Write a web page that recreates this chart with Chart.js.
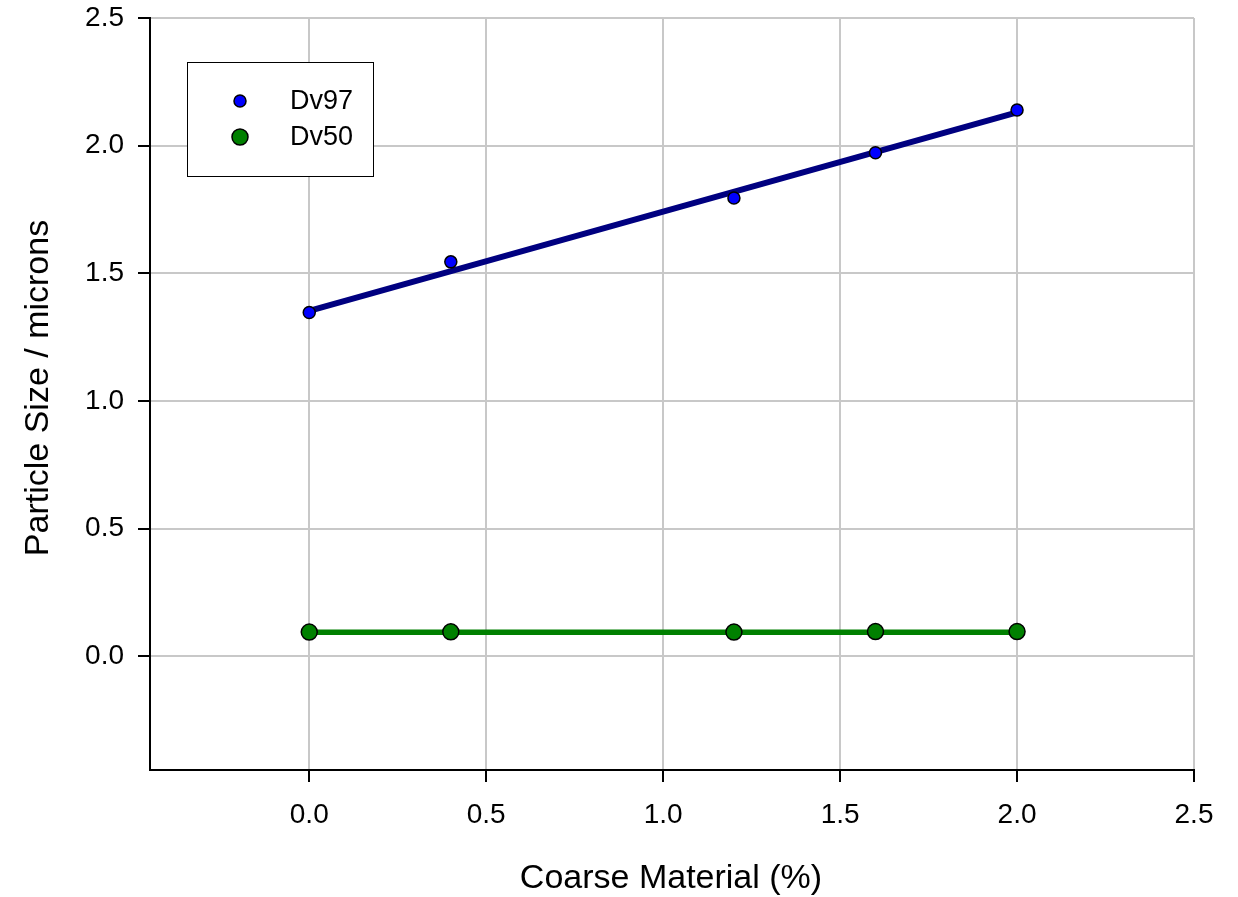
<!DOCTYPE html>
<html>
<head>
<meta charset="utf-8">
<script src="https://cdn.jsdelivr.net/npm/chart.js@4"></script>
<style>
  html, body { margin: 0; padding: 0; background: #fff; }
  #wrap { width: 1238px; height: 897px; }
</style>
</head>
<body>
<div id="wrap"><canvas id="sizeChart" width="1238" height="897"></canvas></div>
<script>
// values
const coarseX = [0.0, 0.4, 1.2, 1.6, 2.0];
const dv97 = [1.347, 1.545, 1.795, 1.972, 2.14];
const dv50 = [0.095, 0.096, 0.095, 0.097, 0.097];
const fitX = [0.0, 2.0];
const dv97Fit = [1.353, 2.13];
const dv50Fit = [0.094, 0.094];
const xTicks = [0.0, 0.5, 1.0, 1.5, 2.0, 2.5];
const yTicks = [0.0, 0.5, 1.0, 1.5, 2.0, 2.5];

const FONT = 'Liberation Sans, Arial, sans-serif';

const toPoints = (xs, ys) => xs.map((x, i) => ({ x: x, y: ys[i] }));

// legend box drawn by hand, like the original plot
const boxLegend = {
  id: 'boxLegend',
  afterDraw(chart) {
    const ctx = chart.ctx;
    ctx.save();
    ctx.fillStyle = '#fff';
    ctx.fillRect(187, 62, 186, 114);
    ctx.strokeStyle = '#000';
    ctx.lineWidth = 1;
    ctx.strokeRect(187.5, 62.5, 186, 114);
    const rows = [chart.data.datasets[0], chart.data.datasets[2]];
    rows.forEach((ds, i) => {
      const y = 101 + i * 36;
      ctx.beginPath();
      ctx.arc(240, y, ds.pointRadius, 0, Math.PI * 2);
      ctx.fillStyle = ds.backgroundColor;
      ctx.fill();
      ctx.lineWidth = ds.borderWidth;
      ctx.strokeStyle = ds.borderColor;
      ctx.stroke();
      ctx.fillStyle = '#000';
      ctx.font = '27px ' + FONT;
      ctx.textBaseline = 'middle';
      ctx.fillText(ds.label, 290, y + 1);
    });
    ctx.restore();
  }
};

const axisTitles = {
  id: 'axisTitles',
  afterDraw(chart) {
    const ctx = chart.ctx;
    ctx.save();
    ctx.fillStyle = '#000';
    ctx.font = '34px ' + FONT;
    ctx.textAlign = 'center';
    ctx.textBaseline = 'middle';
    ctx.fillText('Coarse Material (%)', 671, 879);
    ctx.translate(39, 388);
    ctx.rotate(-Math.PI / 2);
    ctx.fillText('Particle Size / microns', 0, 0);
    ctx.restore();
  }
};

new Chart(document.getElementById('sizeChart'), {
  type: 'scatter',
  data: {
    datasets: [
      {
        label: 'Dv97',
        data: toPoints(coarseX, dv97),
        backgroundColor: '#0000ff',
        borderColor: '#000',
        borderWidth: 1.5,
        pointRadius: 6,
        order: 1
      },
      {
        label: 'Dv97 fit',
        type: 'line',
        data: toPoints(fitX, dv97Fit),
        borderColor: '#000080',
        borderWidth: 6,
        pointRadius: 0,
        fill: false,
        order: 2
      },
      {
        label: 'Dv50',
        data: toPoints(coarseX, dv50),
        backgroundColor: '#008000',
        borderColor: '#000',
        borderWidth: 1.5,
        pointRadius: 8,
        order: 1
      },
      {
        label: 'Dv50 fit',
        type: 'line',
        data: toPoints(fitX, dv50Fit),
        borderColor: '#008000',
        borderWidth: 5.5,
        pointRadius: 0,
        fill: false,
        order: 2
      }
    ]
  },
  options: {
    responsive: false,
    animation: false,
    layout: { padding: { left: 0, top: 18, right: 44, bottom: 0 } },
    plugins: {
      legend: { display: false },
      tooltip: { enabled: false }
    },
    scales: {
      x: {
        type: 'linear',
        min: -0.45,
        max: 2.5,
        afterFit: (scale) => {
          scale.height = 127;
          scale.paddingLeft = 0;
          scale.paddingRight = 0;
        },
        afterBuildTicks: (scale) => { scale.ticks = xTicks.map(v => ({ value: v })); },
        ticks: {
          color: '#000',
          font: { size: 28, family: FONT },
          padding: 16,
          maxRotation: 0,
          callback: (v) => v.toFixed(1)
        },
        grid: { color: '#c8c8c8', lineWidth: 2, tickColor: '#000', tickLength: 12, tickWidth: 2 },
        border: { color: '#000', width: 2 }
      },
      y: {
        type: 'linear',
        min: -0.445,
        max: 2.5,
        afterFit: (scale) => {
          scale.width = 150;
          scale.paddingTop = 0;
          scale.paddingBottom = 0;
        },
        afterBuildTicks: (scale) => { scale.ticks = yTicks.map(v => ({ value: v })); },
        ticks: {
          color: '#000',
          font: { size: 28, family: FONT },
          padding: 14,
          callback: (v) => v.toFixed(1)
        },
        grid: { color: '#c8c8c8', lineWidth: 2, tickColor: '#000', tickLength: 12, tickWidth: 2 },
        border: { color: '#000', width: 2 }
      }
    }
  },
  plugins: [boxLegend, axisTitles]
});
</script>
</body>
</html>
